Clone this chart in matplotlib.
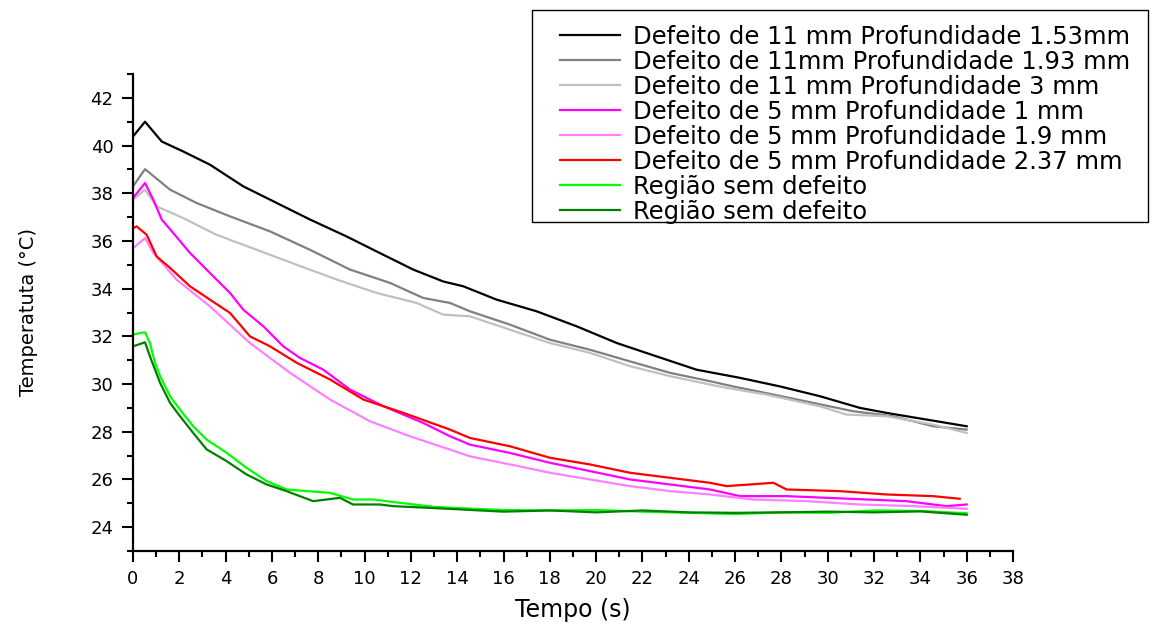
import numpy as np
import matplotlib
matplotlib.use('Agg')
import matplotlib.pyplot as plt
from matplotlib.patches import Rectangle

# tempo (s) e temperatura (C)
t_11_153 = [0, 0.52, 1.24, 2.17, 3.32, 4.76, 5.92, 7.64, 9.22, 10.81, 12.1, 13.4, 14.26, 15.7,
            17.43, 19.16, 20.89, 22.61, 24.34, 26.21, 27.94, 29.66, 31.39, 32.54, 34.27, 36.0]
T_11_153 = [40.38, 41.0, 40.17, 39.75, 39.2, 38.29, 37.73, 36.9, 36.19, 35.42, 34.8, 34.3, 34.1, 33.54,
            33.05, 32.42, 31.72, 31.16, 30.6, 30.26, 29.9, 29.49, 29.0, 28.79, 28.51, 28.23]

t_11_193 = [0, 0.52, 1.6, 2.75, 4.19, 5.92, 7.64, 9.37, 11.1, 12.53, 13.69, 14.55, 16.28, 18.0,
            19.73, 21.46, 23.19, 24.91, 25.92, 27.65, 29.37, 31.1, 32.83, 34.55, 36.0]
T_11_193 = [38.29, 39.01, 38.15, 37.59, 37.03, 36.4, 35.63, 34.8, 34.24, 33.61, 33.4, 33.05, 32.49, 31.86,
            31.44, 30.95, 30.47, 30.12, 29.9, 29.56, 29.21, 28.86, 28.65, 28.23, 28.09]

t_11_3 = [0, 0.52, 1.02, 2.17, 3.6, 5.34, 7.07, 8.8, 10.52, 12.25, 13.4, 14.55, 16.28, 18.0,
          19.73, 21.46, 23.19, 24.91, 25.63, 27.35, 29.66, 30.81, 32.54, 34.55, 36.0]
T_11_3 = [37.73, 38.15, 37.45, 36.96, 36.26, 35.63, 35.0, 34.38, 33.82, 33.4, 32.91, 32.84, 32.28, 31.72,
          31.31, 30.75, 30.33, 29.98, 29.84, 29.56, 29.07, 28.72, 28.65, 28.3, 27.95]

t_5_1 = [0, 0.52, 0.88, 1.24, 1.74, 2.46, 3.32, 4.19, 4.76, 5.63, 6.49, 7.2, 8.22, 9.37, 10.81,
         12.53, 13.69, 14.55, 16.28, 18.0, 19.73, 21.46, 23.19, 24.91, 26.21, 28.22, 29.94, 31.67,
         33.4, 35.13, 36.0]
T_5_1 = [37.8, 38.43, 37.72, 36.9, 36.33, 35.5, 34.66, 33.82, 33.12, 32.42, 31.58, 31.1, 30.6, 29.77, 29.07,
         28.37, 27.81, 27.46, 27.11, 26.7, 26.35, 26.0, 25.79, 25.58, 25.3, 25.3, 25.23, 25.16,
         25.09, 24.88, 24.95]

t_5_19 = [0, 0.52, 0.88, 1.88, 3.32, 5.05, 6.78, 8.51, 10.23, 11.96, 13.69, 14.55, 16.28, 18.0,
          19.73, 21.46, 23.19, 24.91, 26.78, 29.09, 31.39, 33.69, 36.0]
T_5_19 = [35.7, 36.12, 35.5, 34.38, 33.26, 31.72, 30.47, 29.35, 28.44, 27.81, 27.25, 26.97, 26.63, 26.28,
          26.0, 25.72, 25.51, 25.37, 25.16, 25.09, 24.95, 24.88, 24.77]

t_5_237 = [0, 0.16, 0.59, 1.02, 1.6, 2.46, 3.32, 4.19, 5.05, 5.92, 7.07, 8.51, 9.95, 11.68, 13.69,
           14.55, 16.28, 18.0, 19.73, 21.46, 23.19, 24.91, 25.63, 27.65, 28.22, 30.52, 32.54, 34.55, 35.7]
T_5_237 = [36.54, 36.61, 36.26, 35.35, 34.87, 34.1, 33.54, 32.98, 32.0, 31.58, 30.89, 30.19, 29.35, 28.79, 28.09,
           27.74, 27.39, 26.91, 26.63, 26.28, 26.07, 25.86, 25.72, 25.86, 25.58, 25.51, 25.37, 25.3, 25.19]

t_sem_a = [0, 0.3, 0.52, 0.73, 0.95, 1.17, 1.6, 2.03, 2.6, 3.18, 4.04, 4.9, 5.77, 6.63, 7.5, 8.5,
           9.5, 10.37, 11.53, 13, 14, 16, 18, 20, 22, 24, 26, 28, 30, 32, 34, 36]
T_sem_a = [32.07, 32.14, 32.17, 31.72, 30.89, 30.33, 29.49, 28.93, 28.23, 27.67, 27.12, 26.49, 25.93, 25.58,
           25.51, 25.44, 25.16, 25.16, 25.02, 24.85, 24.8, 24.72, 24.7, 24.72, 24.65, 24.6, 24.55, 24.62,
           24.6, 24.7, 24.68, 24.58]

t_sem_b = [0, 0.52, 0.73, 1.17, 1.6, 2.03, 2.6, 3.18, 4.04, 4.9, 5.77, 6.63, 7.78, 8.94, 9.5, 10.66,
           11.24, 13, 14, 16, 18, 20, 22, 24, 26, 28, 30, 32, 34, 36]
T_sem_b = [31.58, 31.75, 31.16, 30.05, 29.21, 28.65, 27.95, 27.26, 26.77, 26.21, 25.79, 25.51, 25.09, 25.23,
           24.95, 24.95, 24.88, 24.8, 24.75, 24.65, 24.7, 24.62, 24.7, 24.62, 24.6, 24.62, 24.65, 24.62,
           24.66, 24.52]

labels = ['Defeito de 11 mm Profundidade 1.53mm',
          'Defeito de 11mm Profundidade 1.93 mm',
          'Defeito de 11 mm Profundidade 3 mm',
          'Defeito de 5 mm Profundidade 1 mm',
          'Defeito de 5 mm Profundidade 1.9 mm',
          'Defeito de 5 mm Profundidade 2.37 mm',
          'Região sem defeito',
          'Região sem defeito']

series = [(t_11_153, T_11_153, '#000000'),
          (t_11_193, T_11_193, '#808080'),
          (t_11_3, T_11_3, '#c0c0c0'),
          (t_5_1, T_5_1, '#ff00ff'),
          (t_5_19, T_5_19, '#ff80ff'),
          (t_5_237, T_5_237, '#ff0000'),
          (t_sem_a, T_sem_a, '#00ff00'),
          (t_sem_b, T_sem_b, '#008000')]

plt.rcParams['font.family'] = ['DejaVu Sans']

W, H = 1157, 625
fig = plt.figure(figsize=(W/100, H/100), dpi=100)
ax = fig.add_axes([133/W, 1 - 551/H, (1013 - 133)/W, (551 - 74)/H])

for (t, T, c), lab in zip(series, labels):
    ax.plot(t, T, color=c, lw=1.6, label=lab)

ax.set_xlim(0, 38)
ax.set_ylim(23, 43)

# major ticks every 2, minor every 1
ax.set_xticks(np.arange(0, 39, 2))
ax.set_xticks(np.arange(0, 39, 1), minor=True)
ax.set_yticks(np.arange(24, 43, 2))
ax.set_yticks(np.arange(23, 44, 1), minor=True)

for s in ['top', 'right']:
    ax.spines[s].set_visible(False)
for s in ['left', 'bottom']:
    ax.spines[s].set_linewidth(1.6)

ax.tick_params(which='major', direction='out', length=8, width=1.5, labelsize=13, pad=6)
ax.tick_params(which='minor', direction='out', length=4.5, width=1.5)

ax.set_xlabel('Tempo (s)', fontsize=17, labelpad=7)
ax.set_ylabel('Temperatuta (°C)', fontsize=14, labelpad=38)

# legend without its own frame, box drawn separately (Origin style padding)
leg = ax.legend(loc='upper left', bbox_to_anchor=(560/W, 1 - 25/H),
                bbox_transform=fig.transFigure, borderaxespad=0, borderpad=0,
                fontsize=17.5, labelspacing=0.04, handlelength=2.47, handletextpad=0.53,
                frameon=False)

box = Rectangle((532/W, 1 - 222/H), 616/W, 212/H, transform=fig.transFigure,
                fill=False, edgecolor='black', linewidth=1.0)
fig.add_artist(box)

fig.savefig('out.png', dpi=100)
